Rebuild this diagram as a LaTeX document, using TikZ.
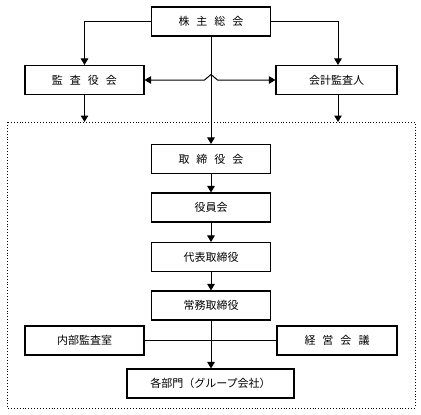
\documentclass[tikz,border=0pt]{standalone}
\usepackage{fontspec}
\setmainfont{Noto Sans CJK JP}
\usetikzlibrary{arrows.meta}
\newcommand{\kgap}{\hspace{7pt}}
\tikzset{
  orgbox/.style={draw,line width=1.1pt,minimum width=119pt,minimum height=29pt,inner sep=0pt,font=\fontsize{11}{13}\selectfont},
  link/.style={line width=1pt,-{Triangle[length=6.5pt,width=7.5pt]}},
  plain/.style={line width=1pt}
}
\begin{document}
\begin{tikzpicture}[x=1pt,y=-1pt]
  \useasboundingbox (0,0) rectangle (421,415);
  % dotted frame
  \coordinate (framenw) at (7,122);
  \coordinate (framese) at (415,408);
  \draw[dotted,line width=0.9pt] (framenw) rectangle (framese);
  % boxes
  \node[orgbox] (soukai) at (211,21.5) {株\kgap 主\kgap 総\kgap 会};
  \node[orgbox] (kansa) at (84.5,80) {監\kgap 査\kgap 役\kgap 会};
  \node[orgbox,minimum width=121pt] (kaikei) at (336.5,80) {会計監査人};
  \node[orgbox] (torishimari) at (211,159) {取\kgap 締\kgap 役\kgap 会};
  \node[orgbox] (yakuin) at (211,207.5) {役員会};
  \node[orgbox] (daihyo) at (211,257) {代表取締役};
  \node[orgbox] (joumu) at (211,305.5) {常務取締役};
  \node[orgbox] (naibu) at (84.5,340.5) {内部監査室};
  \node[orgbox,minimum width=120pt] (keiei) at (337,340.5) {経\kgap 営\kgap 会\kgap 議};
  \node[orgbox,minimum width=167pt] (bumon) at (210.5,383.5) {各部門（グループ会社）};
  % connectors
  \draw[link] (soukai.west) -| (kansa.north);
  \draw[link] (soukai.east) -| ([xshift=1.5pt]kaikei.north);
  \draw[link] (soukai.south) -- (torishimari.north);
  \draw[plain,{Triangle[length=6.5pt,width=7.5pt]}-{Triangle[length=6.5pt,width=7.5pt]}]
    (kansa.east) -- (204.5,80) -- (211,74.5) -- (217.5,80) -- (kaikei.west);
  \draw[link] (kansa.south) -- (kansa.south |- framenw);
  \draw[link] ([xshift=1.5pt]kaikei.south) -- ([xshift=1.5pt]kaikei.south |- framenw);
  \draw[link] (torishimari.south) -- (yakuin.north);
  \draw[link] (yakuin.south) -- (daihyo.north);
  \draw[link] (daihyo.south) -- (joumu.north);
  \draw[plain] (naibu.east) -- (keiei.west);
  \draw[link] (joumu.south) -- (joumu.south |- bumon.north);
\end{tikzpicture}
\end{document}
